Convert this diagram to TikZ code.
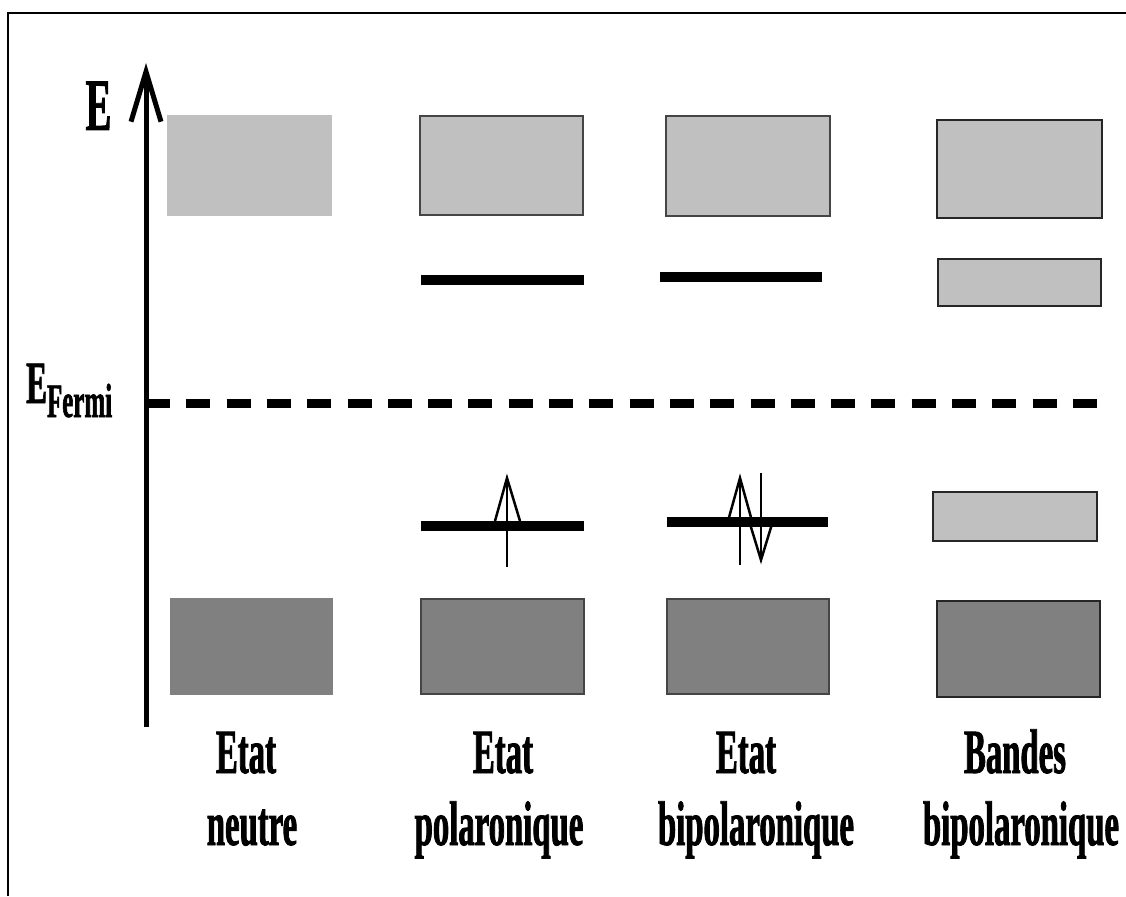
\documentclass[tikz,border=0pt]{standalone}
\usepackage{fontspec}
\setmainfont{Liberation Serif}
\newfontfamily\capfont{Liberation Serif}[UprightFont=* Bold, FakeStretch=0.52, FakeBold=1.2]
\usetikzlibrary{arrows.meta}

\definecolor{bandlight}{HTML}{C0C0C0}
\definecolor{banddark}{HTML}{808080}
\definecolor{bandedge}{HTML}{454545}

\tikzset{
  lightplain/.style={fill=bandlight},
  darkplain/.style={fill=banddark},
  lightbox/.style={fill=bandlight, draw=bandedge, line width=2.5pt},
  darkbox/.style={fill=banddark, draw=bandedge, line width=2.5pt},
  lightboxk/.style={fill=bandlight, draw=black!85, line width=2pt},
  darkboxk/.style={fill=banddark, draw=black!85, line width=2pt},
  level/.style={line width=10pt},
  spin/.style={line width=2.5pt, line join=miter},
  caption/.style={font=\capfont\fontsize{63}{72}\selectfont, inner sep=0pt, anchor=base},
  axis/.style={line width=5pt, -{Straight Barb[length=50pt, width=30pt, line width=5pt]}},
  fermi/.style={line width=9pt, dash pattern=on 24pt off 16.3pt}
}

\begin{document}
\begin{tikzpicture}[x=1pt, y=-1pt]
\useasboundingbox (0,0) rectangle (1126,896);

% frame
\draw[line width=2pt] (7.5,896) -- (7.5,13) -- (1126,13);

% energy axis
\coordinate (axbot) at (146,727);
\coordinate (axtop) at (146,63);
\draw[axis] (axbot) -- (axtop);
\node[inner sep=0pt, anchor=base, font=\capfont\fontsize{74}{80}\selectfont] (elab) at (98.5,130) {E};

% Fermi level
\coordinate (fa) at (146,403);
\coordinate (fb) at (1100,403);
\draw[fermi] (fa) -- (fb);
\node[inner sep=0pt, anchor=base west, font=\capfont\fontsize{60}{66}\selectfont] (eflab) at (26,403)
  {E\raisebox{-14pt}{\fontsize{48}{52}\selectfont Fermi}};

% neutral state
\fill[lightplain] (167,115) rectangle (332,216);
\fill[darkplain] (170,598) rectangle (333,695);

% polaron state
\draw[lightbox] (420,116) rectangle (583,215);
\draw[darkbox] (421,599) rectangle (584,694);
\draw[level] (421,280) -- (584,280);
\draw[level] (421,526) -- (584,526);
\draw[spin] (507,567) -- (507,478);
\draw[spin] (495,521) -- (507,478) -- (520,521);

% bipolaron state
\draw[lightbox] (666,116) rectangle (830,216);
\draw[darkbox] (667,599) rectangle (829,694);
\draw[level] (660,277) -- (822,277);
\draw[level] (667,522) -- (828,522);
\draw[spin] (740,565) -- (740,478);
\draw[spin] (728,521) -- (740,478) -- (752,521);
\draw[spin] (761,473) -- (761,560);
\draw[spin] (750,524) -- (761,560) -- (772,524);

% bipolaron bands
\draw[lightboxk] (937,120) rectangle (1102,218);
\draw[lightboxk] (938,259) rectangle (1101,306);
\draw[lightboxk] (933,492) rectangle (1097,541);
\draw[darkboxk] (937,601) rectangle (1100,697);

% captions
\node[caption] (c1a) at (246,773) {Etat};
\node[caption] (c1b) at (252,845) {neutre};
\node[caption] (c2a) at (503,773) {Etat};
\node[caption] (c2b) at (499,845) {polaronique};
\node[caption] (c3a) at (746,773) {Etat};
\node[caption] (c3b) at (756,845) {bipolaronique};
\node[caption] (c4a) at (1015,773) {Bandes};
\node[caption] (c4b) at (1021,845) {bipolaronique};
\end{tikzpicture}
\end{document}
